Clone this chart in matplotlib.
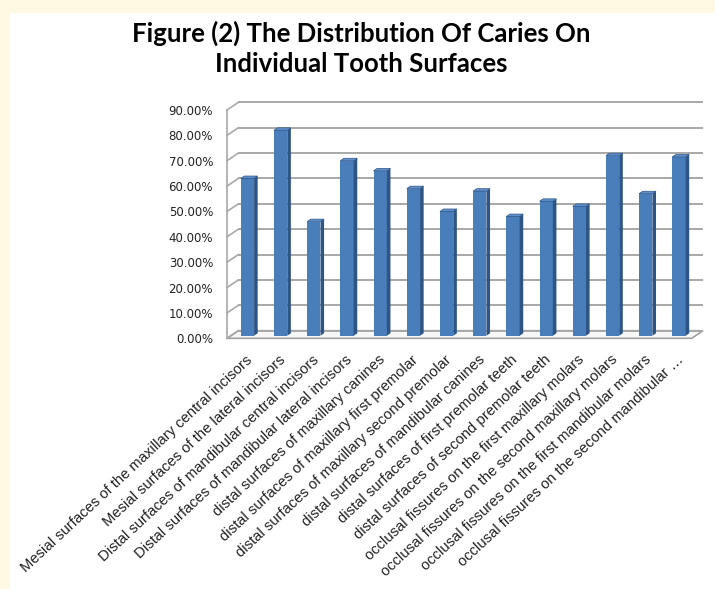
import numpy as np
import matplotlib
matplotlib.use("Agg")
import matplotlib.pyplot as plt
from matplotlib.patches import Polygon, Rectangle

# data
surfaces = [
    "Mesial surfaces of the maxillary central incisors",
    "Mesial surfaces of the lateral incisors",
    "Distal surfaces of mandibular central incisors",
    "Distal surfaces of mandibular lateral incisors",
    "distal surfaces of maxillary canines",
    "distal surfaces of maxillary first premolar",
    "distal surfaces of maxillary second premolar",
    "distal surfaces of mandibular canines",
    "distal surfaces of first premolar teeth",
    "distal surfaces of second premolar teeth",
    "occlusal fissures on the first maxillary molars",
    "occlusal fissures on the second maxillary molars",
    "occlusal fissures on the first mandibular molars",
    "occlusal fissures on the second mandibular \u2026",
]
caries_pct = [62, 81, 45, 69, 65, 58, 49, 57, 47, 53, 51, 71, 56, 70.5]
y_ticks = [0, 10, 20, 30, 40, 50, 60, 70, 80, 90]

W, H = 715, 589
fig = plt.figure(figsize=(W / 100, H / 100), dpi=100)
fig.patch.set_facecolor("white")

# cream border strips (top and left)
cream = "#FFF9E3"
fig.patches.append(Rectangle((0, 1 - 12 / H), 1, 12 / H, transform=fig.transFigure,
                             color=cream, zorder=0))
fig.patches.append(Rectangle((0, 0), 9 / W, 1, transform=fig.transFigure,
                             color=cream, zorder=0))

# front plane of the 3d box in pixels
x0, x1 = 227, 691.7
y_bot, y_top = 338.3, 110
ax = fig.add_axes([x0 / W, 1 - y_bot / H, (x1 - x0) / W, (y_bot - y_top) / H])
n = len(caries_pct)
ax.set_xlim(-0.5, n - 0.5)
ax.set_ylim(0, 90)
for s in ax.spines.values():
    s.set_visible(False)
ax.set_facecolor("none")

sx = (x1 - x0) / n           # px per category
sy = (y_bot - y_top) / 90    # px per percent
DX = 11.3 / sx               # wall depth in data units
DY = 7.6 / sy

grid_c = "#A8A8A8"
left = -0.5
right = n - 0.5

# floor
floor = Polygon([(left, 0), (right, 0), (right + DX, DY), (left + DX, DY)],
                closed=True, facecolor="#F7F7F7", edgecolor="#A0A0A0", lw=1.2,
                clip_on=False, zorder=1)
ax.add_patch(floor)

# back wall gridlines + left wall diagonals
for v in y_ticks:
    ax.plot([left + DX, right + DX], [v + DY, v + DY], color=grid_c, lw=1.4,
            clip_on=False, zorder=1, solid_capstyle="butt")
    ax.plot([left, left + DX], [v, v + DY], color=grid_c, lw=1.2,
            clip_on=False, zorder=1)
ax.plot([left, left], [0, 90], color=grid_c, lw=1.2, clip_on=False, zorder=1)

# 3d-looking bars
f0, f1 = 0.34, 0.66
bw = 0.4
xs = np.arange(n)
front_c, side_c, top_c = "#4A7EBB", "#2F5585", "#5E8FCC"
ax.bar(xs + f0 * DX, caries_pct, width=bw, bottom=f0 * DY, color=front_c,
       edgecolor="none", zorder=3)
for xi, v in zip(xs, caries_pct):
    r = xi + bw / 2
    l = xi - bw / 2
    side = [(r + f0 * DX, f0 * DY), (r + f1 * DX, f1 * DY),
            (r + f1 * DX, v + f1 * DY), (r + f0 * DX, v + f0 * DY)]
    top = [(l + f0 * DX, v + f0 * DY), (r + f0 * DX, v + f0 * DY),
           (r + f1 * DX, v + f1 * DY), (l + f1 * DX, v + f1 * DY)]
    ax.add_patch(Polygon(side, closed=True, facecolor=side_c, edgecolor="none",
                         zorder=3, clip_on=False))
    ax.add_patch(Polygon(top, closed=True, facecolor=top_c, edgecolor=side_c,
                         lw=0.5, zorder=4, clip_on=False))

# axis labels
ax.set_yticks(y_ticks)
ax.set_yticklabels([f"{v:.2f}%" for v in y_ticks], fontsize=8.5,
                   family="DejaVu Sans", color="#222222")
ax.tick_params(axis="y", length=0, pad=10)
ax.set_xticks(xs + 0.2)
ax.set_xticklabels(surfaces, rotation=43, ha="right", va="center",
                   rotation_mode="anchor", fontsize=10.6,
                   family="Liberation Sans", color="#222222")
ax.tick_params(axis="x", length=0, pad=14)

fig.text(0.505, 1 - 33 / H, "Figure (2) The Distribution Of Caries On",
         ha="center", va="center", fontsize=18.5, fontweight="bold", family="Lato")
fig.text(0.505, 1 - 64 / H, "Individual Tooth Surfaces",
         ha="center", va="center", fontsize=18.5, fontweight="bold", family="Lato")

fig.savefig("out.png", dpi=100)
